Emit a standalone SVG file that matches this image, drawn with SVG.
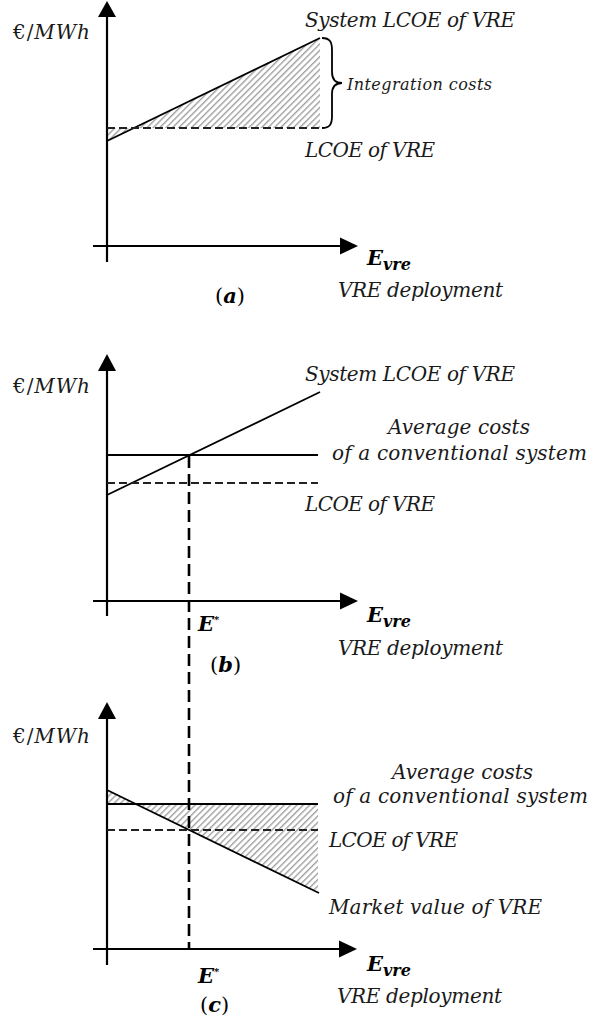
<svg xmlns="http://www.w3.org/2000/svg" width="595" height="1023" viewBox="0 0 595 1023">
<style>
.ax{stroke:#000;stroke-width:2.2;fill:none}
.ah{fill:#000}
.sl{stroke:#000;stroke-width:1.8;fill:none}
.dl{stroke:#222;stroke-width:1.8;stroke-dasharray:8 4;fill:none}
.vd{stroke:#000;stroke-width:2.6;stroke-dasharray:12 6;fill:none}
.hatch{fill:url(#hp);stroke:none}
.t{font-family:"DejaVu Serif","Liberation Serif",serif;font-style:italic;font-size:20px;fill:#1a1a1a}
.ts{font-family:"DejaVu Serif","Liberation Serif",serif;font-style:italic;font-size:16px;fill:#1a1a1a}
.tb{font-family:"DejaVu Serif","Liberation Serif",serif;font-style:italic;font-weight:bold;font-size:21px;fill:#000}
.tp{font-family:"DejaVu Serif","Liberation Serif",serif;font-size:21px;fill:#000}
.up{font-style:normal}
</style>
<defs>
<pattern id="hp" patternUnits="userSpaceOnUse" width="4.5" height="4.5" patternTransform="rotate(45)">
<line x1="0.7" y1="0" x2="0.7" y2="4.5" stroke="#9a9a9a" stroke-width="1.3"/>
</pattern>
</defs>
<rect width="595" height="1023" fill="#fff"/>

<g id="panel-a">
<polygon class="hatch" points="107,128 320,128 320,38 107,141"/>
<line class="ax" x1="107" y1="16" x2="107" y2="262"/>
<polygon class="ah" points="107,1 98,17 116,17"/>
<line class="ax" x1="93" y1="246" x2="341" y2="246"/>
<polygon class="ah" points="358,246 340,237.5 340,254.5"/>
<line class="sl" x1="107" y1="141" x2="320" y2="38"/>
<line class="dl" x1="107" y1="128" x2="320" y2="128"/>
<path class="sl" stroke-width="1.6" d="M322,38 C330,38 332,42 332,50 L332,72 C332,79 335,83 342,83 C335,83 332,87 332,94 L332,116 C332,124 330,128 322,128"/>
<text class="t" x="13" y="39" textLength="77"><tspan class="up">€/</tspan>MWh</text>
<text class="t" x="305" y="27" textLength="210">System LCOE of VRE</text>
<text class="ts" x="347" y="90" textLength="145">Integration costs</text>
<text class="t" x="305" y="157" textLength="130">LCOE of VRE</text>
<text class="tb" x="367" y="265">E<tspan font-size="16" dy="5">vre</tspan></text>
<text class="t" x="338" y="297" textLength="165">VRE deployment</text>
<text class="tp" x="215" y="303">(<tspan class="tb">a</tspan>)</text>
</g>

<g id="panel-b">
<line class="ax" x1="107" y1="370" x2="107" y2="616"/>
<polygon class="ah" points="107,354 98,371 116,371"/>
<line class="ax" x1="93" y1="601" x2="341" y2="601"/>
<polygon class="ah" points="358,601 340,592.5 340,609.5"/>
<line class="sl" x1="107" y1="495" x2="320" y2="392"/>
<line class="sl" x1="107" y1="455" x2="318" y2="455"/>
<line class="dl" x1="107" y1="483" x2="318" y2="483"/>
<text class="t" x="13" y="393" textLength="77"><tspan class="up">€/</tspan>MWh</text>
<text class="t" x="305" y="381" textLength="210">System LCOE of VRE</text>
<text class="t" x="388" y="434" textLength="142">Average costs</text>
<text class="t" x="332" y="460" textLength="255">of a conventional system</text>
<text class="t" x="305" y="511" textLength="130">LCOE of VRE</text>
<text class="tb" font-size="17" x="198" y="631">E<tspan font-size="10" dy="-8">*</tspan></text>
<text class="tb" x="367" y="622">E<tspan font-size="16" dy="5">vre</tspan></text>
<text class="t" x="338" y="655" textLength="165">VRE deployment</text>
<text class="tp" x="210" y="672">(<tspan class="tb">b</tspan>)</text>
</g>

<g id="panel-c">
<polygon class="hatch" points="107,804 318,804 318,892 107,790"/>
<line class="ax" x1="107" y1="718" x2="107" y2="965"/>
<polygon class="ah" points="107,702 98,719 116,719"/>
<line class="ax" x1="93" y1="949" x2="340" y2="949"/>
<polygon class="ah" points="357,949 339,940.5 339,957.5"/>
<line class="sl" x1="107" y1="790" x2="319" y2="893"/>
<line class="sl" x1="107" y1="804" x2="318" y2="804"/>
<line class="dl" x1="107" y1="830" x2="318" y2="830"/>
<text class="t" x="13" y="743" textLength="77"><tspan class="up">€/</tspan>MWh</text>
<text class="t" x="392" y="779" textLength="141">Average costs</text>
<text class="t" x="333" y="803" textLength="255">of a conventional system</text>
<text class="t" x="329" y="847" textLength="129">LCOE of VRE</text>
<text class="t" x="329" y="914" textLength="213">Market value of VRE</text>
<text class="tb" font-size="17" x="198" y="983">E<tspan font-size="10" dy="-8">*</tspan></text>
<text class="tb" x="367" y="971">E<tspan font-size="16" dy="5">vre</tspan></text>
<text class="t" x="337" y="1003" textLength="165">VRE deployment</text>
<text class="tp" x="200" y="1012">(<tspan class="tb">c</tspan>)</text>
</g>

<g id="connectors">
<line class="vd" x1="189" y1="456" x2="189" y2="948"/>
</g>
</svg>
